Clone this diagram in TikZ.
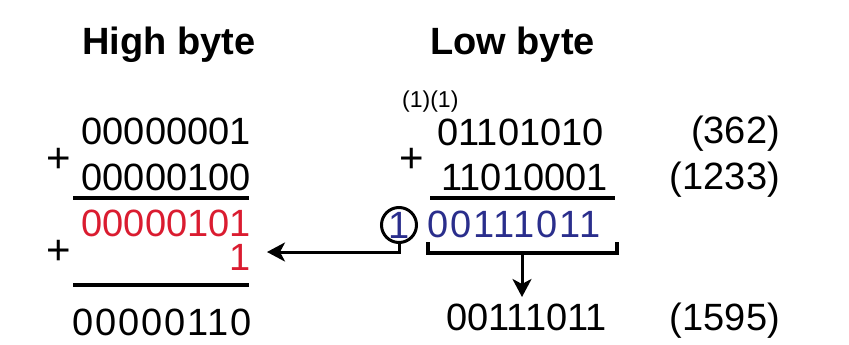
\documentclass[tikz,border=0pt]{standalone}
\usepackage{fontspec}
\setmainfont{Liberation Sans}
\newfontfamily\widedigits[LetterSpace=5]{Liberation Sans}
\usetikzlibrary{arrows.meta}

\definecolor{sumred}{RGB}{218,28,48}
\definecolor{sumblue}{RGB}{42,46,140}

\begin{document}
\begin{tikzpicture}[
    x=1pt, y=-1pt,
    num/.style={inner sep=0pt, anchor=base east, font=\fontsize{38}{40}\selectfont},
    wide/.style={inner sep=0pt, anchor=base west, font=\fontsize{38}{40}\widedigits},
    head/.style={inner sep=0pt, anchor=base west, font=\fontsize{38}{40}\selectfont\bfseries},
    plus/.style={inner sep=0pt, font=\fontsize{42}{44}\selectfont},
    small/.style={inner sep=0pt, anchor=base west, font=\fontsize{23}{25}\selectfont},
    rule/.style={line width=3.3pt},
    arr/.style={-{Stealth[length=18pt, width=19pt, inset=5pt]}, line width=3pt},
]
\useasboundingbox (0,0) rectangle (849,345);

% headings
\node[head] (hhead) at (82,55)  {High byte};
\node[head] (lhead) at (430,55) {Low byte};

% high byte column
\node[num] (ha)   at (251,144) {00000001};
\node[num] (hb)   at (251,190) {00000100};
\node[num, text=sumred] (hsum) at (251,236) {00000101};
\node[num, text=sumred] (hone) at (251,270) {1};
\node[wide] (hres) at (72,335) {00000110};
\node[plus] (hp1) at (59,160) {+};
\node[plus] (hp2) at (59,252) {+};
\draw[rule] (73,198) -- (249,198);
\draw[rule] (73,285) -- (249,285);

% low byte column
\node[small] (lcarry) at (402,107) {(1)(1)};
\node[num] (la)   at (604,145) {01101010};
\node[num] (lb)   at (608,190) {11010001};
\node[wide, text=sumblue] (lsum) at (427,237) {00111011};
\node[num] (lres) at (607,330) {00111011};
\node[plus] (lp1) at (412,160) {+};
\draw[rule] (430,198) -- (615,198);

% decimal values
\node[num] (da) at (780,143) {(362)};
\node[num] (db) at (780,189) {(1233)};
\node[num] (dr) at (780,330) {(1595)};

% carry out of the low byte
\node[circle, draw, line width=3pt, minimum size=35pt, inner sep=0pt,
      text=sumblue, font=\fontsize{38}{40}\selectfont] (carry) at (399,225) {1};
\coordinate (cin) at (267,252);
\draw[arr] (carry.south) |- (cin);

% bracket round the low sum
\coordinate (bl) at (428,242);
\coordinate (br) at (617,242);
\coordinate (bm) at (522,253);
\coordinate (bt) at (522,297);
\draw[rule] (bl) -- (428,253) -- (617,253) -- (br);
\draw[arr] (bm) -- (bt);

\end{tikzpicture}
\end{document}
